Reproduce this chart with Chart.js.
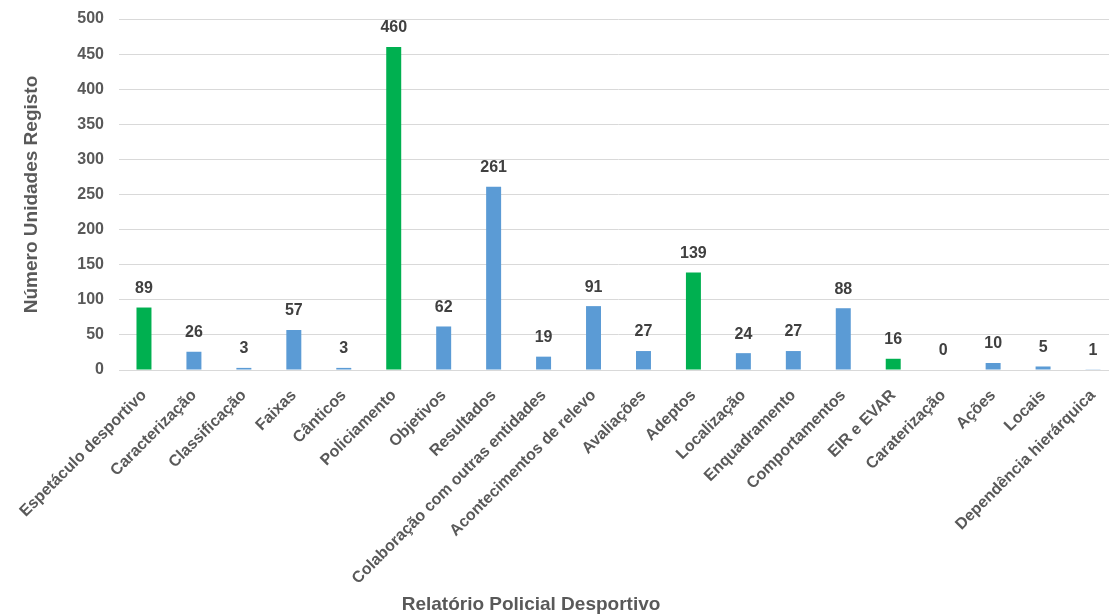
<!DOCTYPE html>
<html>
<head>
<meta charset="utf-8">
<script src="https://cdn.jsdelivr.net/npm/chart.js@4"></script>
<style>
  html, body { margin: 0; padding: 0; background: #fff; width: 1109px; height: 616px; overflow: hidden; }
  #wrap { width: 1118px; height: 616px; position: relative; }
</style>
</head>
<body>
<div id="wrap"><canvas id="chart"></canvas></div>
<script>
// Data
const categories = [
    "Espetáculo desportivo", "Caracterização", "Classificação", "Faixas", "Cânticos",
    "Policiamento", "Objetivos", "Resultados", "Colaboração com outras entidades",
    "Acontecimentos de relevo", "Avaliações", "Adeptos", "Localização", "Enquadramento",
    "Comportamentos", "EIR e EVAR", "Caraterização", "Ações", "Locais", "Dependência hierárquica"
];
const values = [89, 26, 3, 57, 3, 460, 62, 261, 19, 91, 27, 139, 24, 27, 88, 16, 0, 10, 5, 1];
const highlighted = ["Espetáculo desportivo", "Policiamento", "Adeptos", "EIR e EVAR"];
const yTicks = [0, 50, 100, 150, 200, 250, 300, 350, 400, 450, 500];
const yTitle = "Número Unidades Registo";
const xTitle = "Relatório Policial Desportivo";

const green = '#00B050';
const blue = '#5B9BD5';
const textGray = '#595959';
const labelGray = '#404040';
const fontFamily = '"Liberation Sans", Arial, sans-serif';

const barColors = categories.map(c => highlighted.includes(c) ? green : blue);

// value labels above bars + x axis title
const valueLabels = {
    id: 'valueLabels',
    afterDatasetsDraw(chart) {
        const ctx = chart.ctx;
        const meta = chart.getDatasetMeta(0);
        ctx.save();
        ctx.font = 'bold 16px ' + fontFamily;
        ctx.fillStyle = labelGray;
        ctx.textAlign = 'center';
        ctx.textBaseline = 'middle';
        meta.data.forEach((bar, i) => {
            ctx.fillText(String(values[i]), bar.x, bar.y - 19);
        });
        ctx.font = 'bold 19px ' + fontFamily;
        ctx.fillStyle = textGray;
        ctx.fillText(xTitle, 531, 605);
        ctx.restore();
    }
};

new Chart(document.getElementById('chart'), {
    type: 'bar',
    data: {
        labels: categories,
        datasets: [{
            data: values,
            backgroundColor: barColors,
            barPercentage: 0.3,
            categoryPercentage: 1.0
        }]
    },
    options: {
        responsive: true,
        maintainAspectRatio: false,
        animation: false,
        layout: { padding: { top: 19, right: 0, left: 0, bottom: 0 } },
        plugins: {
            legend: { display: false },
            tooltip: { enabled: false }
        },
        scales: {
            x: {
                afterFit(scale) {
                    scale.height = 246;
                    scale.paddingLeft = 0;
                    scale.paddingRight = 0;
                },
                grid: { display: false, drawTicks: false },
                border: { color: '#D9D9D9', width: 1 },
                ticks: {
                    autoSkip: false,
                    maxRotation: 45,
                    minRotation: 45,
                    padding: 16,
                    color: textGray,
                    font: { family: fontFamily, size: 16, weight: 'bold' }
                }
            },
            y: {
                min: 0,
                max: 500,
                afterFit(scale) {
                    scale.width = 119;
                    scale.paddingTop = 0;
                    scale.paddingBottom = 0;
                },
                afterBuildTicks(scale) { scale.ticks = yTicks.map(v => ({ value: v })); },
                grid: { color: '#D9D9D9', drawTicks: false },
                border: { display: false },
                ticks: {
                    padding: 15,
                    color: textGray,
                    font: { family: fontFamily, size: 16, weight: 'bold' }
                },
                title: {
                    display: true,
                    text: yTitle,
                    color: textGray,
                    padding: { top: 20, bottom: 0 },
                    font: { family: fontFamily, size: 19, weight: 'bold' }
                }
            }
        }
    },
    plugins: [valueLabels]
});
</script>
</body>
</html>
